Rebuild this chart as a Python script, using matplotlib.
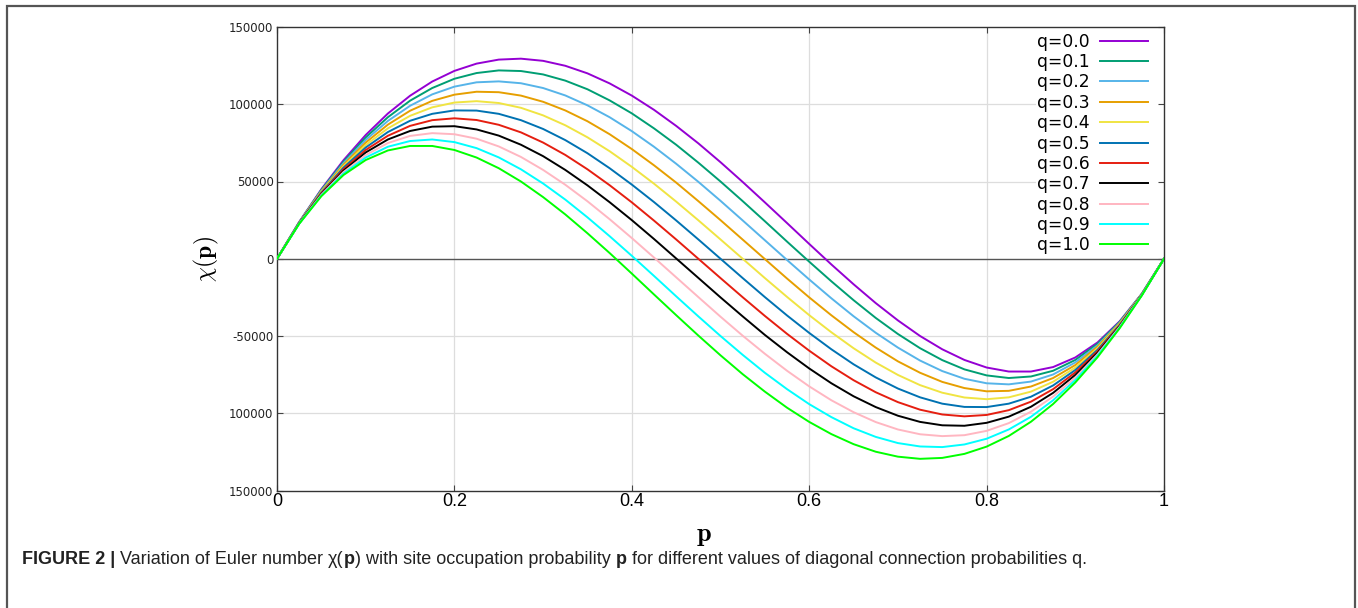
import matplotlib
matplotlib.use("Agg")
import matplotlib.pyplot as plt
from matplotlib.patches import Rectangle

plt.rcParams['mathtext.fontset'] = 'cm'

# site occupation probability
p = [0.0, 0.025, 0.05, 0.075, 0.10, 0.125, 0.15, 0.175, 0.20, 0.225, 0.25,
     0.275, 0.30, 0.325, 0.35, 0.375, 0.40, 0.425, 0.45, 0.475, 0.50,
     0.525, 0.55, 0.575, 0.60, 0.625, 0.65, 0.675, 0.70, 0.725, 0.75,
     0.775, 0.80, 0.825, 0.85, 0.875, 0.90, 0.925, 0.95, 0.975, 1.0]

# Euler number for each diagonal connection probability q
chi_q00 = [0, 23800, 45000, 63800, 80100, 94000, 105500, 114700, 121600, 126300, 128900,
           129500, 128100, 124900, 120000, 113500, 105600, 96400, 86000, 74700, 62500,
           49700, 36500, 23100, 9600, -3700, -16500, -28700, -39900, -50000, -58600,
           -65500, -70400, -73000, -73000, -70100, -63900, -54200, -40500, -22600, 0]
chi_q01 = [0, 23600, 44600, 62800, 78500, 91600, 102300, 110500, 116500, 120200, 121900,
           121500, 119300, 115300, 109700, 102500, 94100, 84400, 73800, 62200, 50000,
           37300, 24300, 11100, -1900, -14600, -26800, -38300, -48700, -57900, -65600,
           -71600, -75500, -77200, -76200, -72500, -65500, -55100, -40900, -22700, 0]
chi_q02 = [0, 23500, 44100, 61900, 76900, 89200, 99000, 106400, 111400, 114200, 114800,
           113600, 110500, 105700, 99300, 91600, 82600, 72500, 61500, 49800, 37500,
           24800, 12000, -800, -13400, -25600, -37200, -47900, -57500, -65900, -72700,
           -77700, -80600, -81300, -79500, -74900, -67100, -56100, -41400, -22800, 0]
chi_q03 = [0, 23400, 43700, 60900, 75200, 86800, 95800, 102200, 106200, 108100, 107800,
           105600, 101600, 96000, 89000, 80600, 71000, 60500, 49300, 37300, 25000,
           12400, -200, -12800, -25000, -36600, -47500, -57500, -66400, -73800, -79700,
           -83700, -85800, -85500, -82700, -77200, -68800, -57000, -41800, -22900, 0]
chi_q04 = [0, 23300, 43200, 59900, 73600, 84400, 92500, 98000, 101100, 102000, 100800,
           97700, 92800, 86400, 78600, 69600, 59500, 48600, 37000, 24900, 12500,
           0, -12500, -24700, -36500, -47600, -57900, -67200, -75200, -81800, -86700,
           -89800, -90900, -89700, -86000, -79600, -70400, -58000, -42300, -23000, 0]
chi_q05 = [0, 23200, 42800, 59000, 72000, 82000, 89300, 93800, 96000, 95900, 93800,
           89700, 84000, 76800, 68300, 58600, 48000, 36700, 24800, 12500, 0,
           -12500, -24800, -36700, -48000, -58600, -68300, -76800, -84000, -89700, -93800,
           -95900, -96000, -93800, -89300, -82000, -72000, -59000, -42800, -23200, 0]
chi_q06 = [0, 23000, 42300, 58000, 70400, 79600, 86000, 89700, 90900, 89800, 86700,
           81800, 75200, 67200, 57900, 47600, 36500, 24700, 12500, 0, -12500,
           -24900, -37000, -48600, -59500, -69600, -78600, -86400, -92800, -97700, -100800,
           -102000, -101100, -98000, -92500, -84400, -73600, -59900, -43200, -23300, 0]
chi_q07 = [0, 22900, 41800, 57000, 68800, 77200, 82700, 85500, 85800, 83700, 79700,
           73800, 66400, 57500, 47500, 36600, 25000, 12800, 200, -12400, -25000,
           -37300, -49300, -60500, -71000, -80600, -89000, -96000, -101600, -105600, -107800,
           -108100, -106200, -102200, -95800, -86800, -75200, -60900, -43700, -23400, 0]
chi_q08 = [0, 22800, 41400, 56100, 67100, 74900, 79500, 81300, 80600, 77700, 72700,
           65900, 57500, 47900, 37200, 25600, 13400, 800, -12000, -24800, -37500,
           -49800, -61500, -72500, -82600, -91600, -99300, -105700, -110500, -113600, -114800,
           -114200, -111400, -106400, -99000, -89200, -76900, -61900, -44100, -23500, 0]
chi_q09 = [0, 22700, 40900, 55100, 65500, 72500, 76200, 77200, 75500, 71600, 65600,
           57900, 48700, 38300, 26800, 14600, 1900, -11100, -24300, -37300, -50000,
           -62200, -73800, -84400, -94100, -102500, -109700, -115300, -119300, -121500, -121900,
           -120200, -116500, -110500, -102300, -91600, -78500, -62800, -44600, -23600, 0]
chi_q10 = [0, 22600, 40500, 54200, 63900, 70100, 73000, 73000, 70400, 65500, 58600,
           50000, 39900, 28700, 16500, 3700, -9600, -23100, -36500, -49700, -62500,
           -74700, -86000, -96400, -105600, -113500, -120000, -124900, -128100, -129500, -128900,
           -126300, -121600, -114700, -105500, -94000, -80100, -63800, -45000, -23800, 0]

series = [chi_q00, chi_q01, chi_q02, chi_q03, chi_q04, chi_q05,
          chi_q06, chi_q07, chi_q08, chi_q09, chi_q10]
q_labels = ["q=0.0", "q=0.1", "q=0.2", "q=0.3", "q=0.4", "q=0.5",
            "q=0.6", "q=0.7", "q=0.8", "q=0.9", "q=1.0"]
colors = ["#9400d3", "#009e73", "#56b4e9", "#e69f00", "#f0e442", "#0072b2",
          "#e51e10", "#000000", "#ffb6c1", "#00ffff", "#00ff00"]

y_ticks = [150000, 100000, 50000, 0, -50000, -100000, -150000]
y_ticklabels = ["150000", "100000", "50000", "0", "-50000", "100000", "150000"]
x_ticks = [0, 0.2, 0.4, 0.6, 0.8, 1]
x_ticklabels = ["0", "0.2", "0.4", "0.6", "0.8", "1"]

W, H = 1358, 608
fig = plt.figure(figsize=(W / 100, H / 100), dpi=100)

# outer frame of the figure panel
fig.patches.append(Rectangle((7 / W, -0.02), 1348 / W, 1 - 6 / H + 0.02,
                             transform=fig.transFigure, fill=False,
                             edgecolor="#555555", lw=1.6))

ax = fig.add_axes([277 / W, 1 - 490.5 / H, 887 / W, 463.5 / H])

for vals, lab, c in zip(series, q_labels, colors):
    ax.plot(p, vals, color=c, lw=1.4, label=lab, zorder=3)

# grid: the upper horizontal lines stop short of the key
grid_kw = dict(color="#dddddd", lw=0.9, zorder=0)
for yv in [100000, 50000]:
    ax.axhline(yv, xmax=0.855, **grid_kw)
for yv in [-50000, -100000]:
    ax.axhline(yv, **grid_kw)
for xv in [0.2, 0.4, 0.6, 0.8]:
    ax.axvline(xv, **grid_kw)
ax.axhline(0, color="#555555", lw=1.0, zorder=2)

ax.set_xlim(0, 1)
ax.set_ylim(-150000, 150000)

ax.set_yticks(y_ticks)
ax.set_yticklabels(y_ticklabels, fontsize=8.5, color="#222222")
ax.set_xticks(x_ticks)
ax.set_xticklabels(x_ticklabels, fontsize=13,
                   family=["Liberation Sans Narrow", "Liberation Sans"])
ax.tick_params(direction="in", length=4, width=0.8, top=True, right=True,
               color="#444444")
ax.tick_params(axis="y", pad=2.5)
ax.tick_params(axis="x", pad=2)
for s in ax.spines.values():
    s.set_color("#333333")
    s.set_linewidth(1.0)

ax.set_ylabel(r"$\chi(\mathbf{p})$", fontsize=17, labelpad=6)
ax.set_xlabel(r"$\mathbf{p}$", fontsize=19)
ax.xaxis.set_label_coords(0.481, -0.068)

leg = ax.legend(loc="upper right", bbox_to_anchor=(0.982, 0.988),
                markerfirst=False, fontsize=12.3,
                handlelength=2.8, handletextpad=0.6, labelspacing=0.14,
                borderaxespad=0.0, borderpad=0.0, frameon=False)
leg.set_zorder(5)


def caption(fig, x, y, chunks, **kw):
    renderer = fig.canvas.get_renderer()
    for text, weight in chunks:
        t = fig.text(x, y, text, fontweight=weight, va="baseline", **kw)
        x += t.get_window_extent(renderer).width / fig.bbox.width


caption(fig, 22 / W, 1 - 564 / H,
        [("FIGURE 2 | ", "bold"),
         ("Variation of Euler number ", "normal"),
         ("χ(", "normal"), ("p", "bold"),
         (") with site occupation probability ", "normal"),
         ("p", "bold"),
         (" for different values of diagonal connection probabilities q.", "normal")],
        fontsize=13.0, color="#222222",
        family=["Liberation Sans Narrow", "Liberation Sans"])

fig.savefig("out.png", dpi=100)
